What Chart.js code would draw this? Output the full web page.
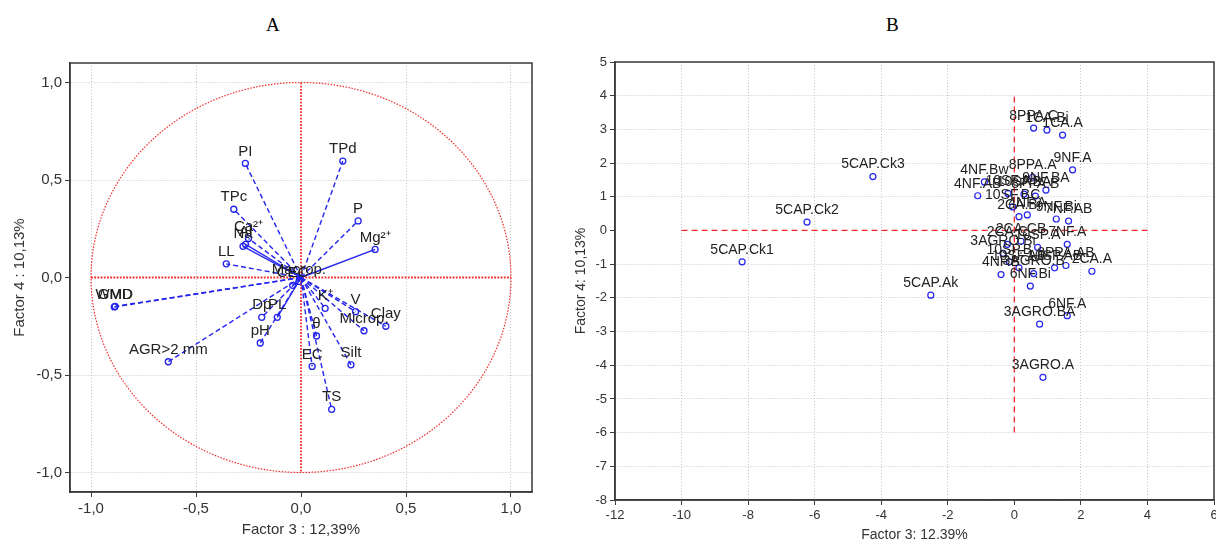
<!DOCTYPE html>
<html>
<head>
<meta charset="utf-8">
<script src="https://cdn.jsdelivr.net/npm/chart.js@4.4.1/dist/chart.umd.min.js"></script>
<style>
    html, body { margin: 0; padding: 0; background: #fff; overflow: hidden; width: 1216px; height: 544px; }
    .panel { position: absolute; top: 0; height: 544px; }
    #wrapA { left: 0; width: 560px; }
    #wrapB { left: 560px; width: 680px; }
    .ttl { position: absolute; top: 15px; font: 19px "Liberation Serif", "Times New Roman", serif; line-height: 19px; color: #000; }
</style>
</head>
<body>
<div class="ttl" style="left:266px">A</div>
<div class="ttl" style="left:886px">B</div>
<div class="panel" id="wrapA"><canvas id="chartA"></canvas></div>
<div class="panel" id="wrapB"><canvas id="chartB"></canvas></div>
<script>
// ---- Panel A: variable loadings (Factor 3 vs Factor 4)
const varNames = ['PI', 'TPd', 'TPc', 'Ca²⁺', 'Al', 'Na', 'LL', 'P', 'Mg²⁺', 'Macrop.', 'CEC',
    'GMD', 'WMD', 'Dp', 'PL', 'pH', 'AGR>2 mm', 'K⁺', 'V', 'Microp.', 'Clay', 'θ', 'EC', 'Silt', 'TS'];
const loadF3 = [-0.265, 0.199, -0.320, -0.250, -0.264, -0.276, -0.356, 0.272, 0.353, -0.010, -0.040,
    -0.885, -0.889, -0.187, -0.113, -0.194, -0.632, 0.115, 0.260, 0.300, 0.404, 0.074, 0.053, 0.238, 0.146];
const loadF4 = [0.585, 0.597, 0.350, 0.200, 0.170, 0.160, 0.070, 0.290, 0.144, -0.020, -0.040,
    -0.148, -0.151, -0.204, -0.204, -0.336, -0.432, -0.158, -0.175, -0.273, -0.250, -0.300, -0.456, -0.448, -0.676];
const ticksA = [-1, -0.5, 0, 0.5, 1];
const rangeA = [-1.1, 1.1];
const unitCircle = 1;

// ---- Panel B: sample scores (Factor 3 vs Factor 4)
const sampleNames = ['5CAP.Ck1', '5CAP.Ck2', '5CAP.Ck3', '5CAP.Ak', '8PPA.C', '1CA.Bi', '1CA.A', '9NF.A',
    '8PPA.A', '4NF.Bw', '4NF.AB', '10SF.A', '10SF.BA', '9NF.BA', '8PPA.B', '10SF.BC', '4NF.A', '2CA.Bi',
    '9NF.Bi', '7NF.AB', '2CA.C', '2CA.CB', '7NF.A', '3AGRO.Bi', '10SP.A', '10SP.B', '10SP.AB', '8PPA.AB',
    '2CA.A', '4NF.B', '3AGRO.B', '10SF.AB', '6NF.Bi', '6NF.A', '3AGRO.BA', '3AGRO.A'];
const scoreF3 = [-8.18, -6.23, -4.25, -2.51, 0.58, 0.98, 1.45, 1.75,
    0.55, -0.90, -1.10, -0.19, 0.29, 0.95, 0.63, -0.05, 0.39, 0.14,
    1.26, 1.63, -0.21, 0.20, 1.59, -0.34, 0.70, -0.15, 1.21, 1.55,
    2.33, -0.40, 0.58, 0.14, 0.48, 1.59, 0.76, 0.86];
const scoreF4 = [-0.93, 0.25, 1.60, -1.92, 3.04, 2.98, 2.83, 1.80,
    1.58, 1.44, 1.03, 1.10, 1.08, 1.20, 1.02, 0.70, 0.46, 0.41,
    0.34, 0.28, -0.41, -0.32, -0.41, -0.68, -0.50, -0.93, -1.11, -1.04,
    -1.21, -1.31, -1.28, -1.11, -1.65, -2.53, -2.78, -4.36];
const ticksBX = [-12, -10, -8, -6, -4, -2, 0, 2, 4, 6];
const ticksBY = [-8, -7, -6, -5, -4, -3, -2, -1, 0, 1, 2, 3, 4, 5];
const zeroLineBX = [-10, 4];
const zeroLineBY = [-6, 4];

const blue = '#2424f0';
const red = '#f22a2a';
const SANS = '"Liberation Sans", Arial, sans-serif';

// labels centred above each labelled point
const pointLabels = {
    id: 'pointLabels',
    afterDatasetsDraw(chart, args, opts) {
        const ctx = chart.ctx;
        ctx.save();
        ctx.font = opts.font;
        ctx.fillStyle = opts.color;
        ctx.textAlign = 'center';
        ctx.textBaseline = 'middle';
        chart.data.datasets.forEach(function (ds, i) {
            if (!ds.labels) return;
            chart.getDatasetMeta(i).data.forEach(function (el, j) {
                if (ds.labels[j]) ctx.fillText(ds.labels[j], el.x, el.y - opts.offset);
            });
        });
        ctx.restore();
    }
};

const frame = {
    id: 'frame',
    afterDraw(chart) {
        const a = chart.chartArea, ctx = chart.ctx;
        ctx.save();
        ctx.strokeStyle = '#3a3a3a';
        ctx.lineWidth = 1.5;
        ctx.setLineDash([]);
        ctx.strokeRect(a.left, a.top, a.right - a.left, a.bottom - a.top);
        ctx.restore();
    }
};

// red unit circle and its two diameters, drawn through the chart's scales
const circle = {
    id: 'circle',
    beforeDatasetsDraw(chart) {
        const xs = chart.scales.x, ys = chart.scales.y, ctx = chart.ctx;
        const cx = xs.getPixelForValue(0), cy = ys.getPixelForValue(0);
        const rx = xs.getPixelForValue(unitCircle) - cx;
        const ry = cy - ys.getPixelForValue(unitCircle);
        ctx.save();
        ctx.strokeStyle = red;
        ctx.lineWidth = 1.2;
        ctx.setLineDash([1.5, 1.5]);
        ctx.beginPath();
        ctx.ellipse(cx, cy, rx, ry, 0, 0, Math.PI * 2);
        ctx.stroke();
        ctx.lineWidth = 1.8;
        ctx.setLineDash([1.8, 1.4]);
        ctx.beginPath();
        ctx.moveTo(cx - rx, cy);
        ctx.lineTo(cx + rx, cy);
        ctx.moveTo(cx, cy - ry);
        ctx.lineTo(cx, cy + ry);
        ctx.stroke();
        ctx.restore();
    }
};

function axis(opts) {
    return {
        type: 'linear',
        min: opts.range[0],
        max: opts.range[1],
        afterBuildTicks: function (s) { s.ticks = opts.ticks.map(function (v) { return { value: v }; }); },
        afterFit: function (s) { if (opts.width) s.width = opts.width; if (opts.height) s.height = opts.height; },
        grid: {
            // zero line is covered by the red reference lines
            color: function (c) { return c.tick && c.tick.value === 0 ? 'rgba(0,0,0,0)' : '#c4c4c4'; },
            lineWidth: 1, tickLength: 5, tickColor: '#3a3a3a', tickBorderDash: []
        },
        border: { display: true, color: '#3a3a3a', width: 1.5, dash: [1, 2] },
        ticks: {
            color: '#333',
            padding: 3,
            font: { family: SANS, size: opts.tickSize },
            callback: opts.fmt
        },
        title: {
            display: true,
            text: opts.title,
            color: '#333',
            font: { family: SANS, size: opts.titleSize },
            padding: opts.titlePad
        }
    };
}

function commaFmt(v) { return v.toFixed(1).replace('.', ','); }

// ---- Panel A
const solidA = ['Mg²⁺', 'Al', 'Na', 'CEC', 'PL'];
const vectorSets = varNames.map(function (name, i) {
    return {
        data: [{ x: 0, y: 0 }, { x: loadF3[i], y: loadF4[i] }],
        labels: ['', name],
        showLine: true,
        borderColor: blue,
        borderWidth: 1.4,
        borderDash: solidA.indexOf(name) >= 0 ? [] : [5, 3],
        pointRadius: [0, 3],
        pointBorderColor: blue,
        pointBackgroundColor: 'rgba(0,0,0,0)',
        pointBorderWidth: 1.3
    };
});

new Chart(document.getElementById('chartA'), {
    type: 'scatter',
    data: { datasets: vectorSets },
    options: {
        responsive: true,
        maintainAspectRatio: false,
        animation: false,
        layout: { padding: { top: 63, right: 28, left: 0, bottom: 0 } },
        plugins: {
            legend: { display: false },
            tooltip: { enabled: false },
            pointLabels: { font: '15px ' + SANS, color: '#222', offset: 12 }
        },
        scales: {
            x: axis({ range: rangeA, ticks: ticksA, height: 52, tickSize: 15, titleSize: 15, fmt: commaFmt,
                title: 'Factor 3 : 12,39%', titlePad: { top: 0, bottom: 5 } }),
            y: axis({ range: rangeA, ticks: ticksA, width: 70, tickSize: 15, titleSize: 15, fmt: commaFmt,
                title: 'Factor 4 : 10,13%', titlePad: { top: 11, bottom: 0 } })
        }
    },
    plugins: [circle, pointLabels, frame]
});

// ---- Panel B
const redAxisB = { borderColor: red, borderWidth: 1.3, borderDash: [6, 4], showLine: true, pointRadius: 0 };

new Chart(document.getElementById('chartB'), {
    type: 'scatter',
    data: {
        datasets: [
            {
                data: sampleNames.map(function (n, i) { return { x: scoreF3[i], y: scoreF4[i] }; }),
                labels: sampleNames,
                pointRadius: 3,
                pointBorderColor: blue,
                pointBackgroundColor: 'rgba(0,0,0,0)',
                pointBorderWidth: 1.2
            },
            Object.assign({ data: [{ x: zeroLineBX[0], y: 0 }, { x: zeroLineBX[1], y: 0 }] }, redAxisB),
            Object.assign({ data: [{ x: 0, y: zeroLineBY[0] }, { x: 0, y: zeroLineBY[1] }] }, redAxisB)
        ]
    },
    options: {
        responsive: true,
        maintainAspectRatio: false,
        animation: false,
        layout: { padding: { top: 62, right: 26, left: 0, bottom: 0 } },
        plugins: {
            legend: { display: false },
            tooltip: { enabled: false },
            pointLabels: { font: '14px ' + SANS, color: '#222', offset: 12 }
        },
        scales: {
            x: axis({ range: [-12, 6], ticks: ticksBX, height: 44, tickSize: 13, titleSize: 14,
                fmt: function (v) { return String(v); },
                title: 'Factor 3: 12.39%', titlePad: { top: 0, bottom: 0 } }),
            y: axis({ range: [-8, 5], ticks: ticksBY, width: 55, tickSize: 13, titleSize: 14,
                fmt: function (v) { return String(v); },
                title: 'Factor 4: 10,13%', titlePad: { top: 13, bottom: 0 } })
        }
    },
    plugins: [pointLabels, frame]
});
</script>
</body>
</html>
